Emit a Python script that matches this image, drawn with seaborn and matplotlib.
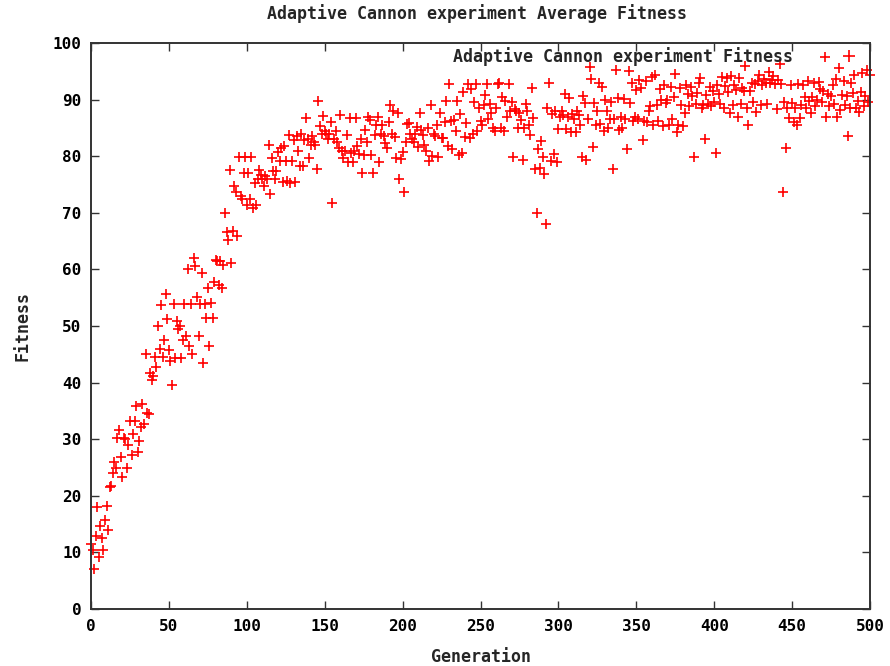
import numpy as np
import pandas as pd
import matplotlib
matplotlib.use("Agg")
import matplotlib.pyplot as plt
from matplotlib.lines import Line2D
import seaborn as sns

# ---------------- data ----------------
generations = np.arange(0, 501)

fit_000_100 = [
    11.5, 10.4, 7.0, 12.9, 18.0, 9.2, 14.7, 12.5, 10.4, 15.7,
    18.2, 14.0, 21.6, 21.7, 24.0, 26.0, 25.0, 30.3, 31.6, 26.9,
    23.4, 30.3, 30.0, 25.0, 29.0, 33.3, 27.2, 30.9, 33.3, 35.9,
    27.8, 29.6, 32.2, 36.3, 32.7, 45.0, 34.6, 34.4, 41.7, 40.5,
    41.2, 44.6, 42.8, 50.0, 46.0, 53.7, 44.6, 47.6, 55.7, 51.3,
    45.8, 43.9, 39.6, 53.9, 44.3, 50.8, 49.4, 50.0, 44.3, 47.6,
    53.9, 48.2, 60.0, 46.5, 53.9, 45.0, 62.0, 60.6, 55.1, 48.2,
    53.9, 59.4, 43.5, 53.9, 51.4, 56.8, 46.5, 54.0, 51.4, 57.7,
    61.7, 61.4, 57.2, 61.4, 56.8, 60.8, 70.0, 66.6, 65.2, 77.6,
    61.1, 66.8, 74.7, 73.7, 65.9, 79.8, 73.0, 72.5, 77.0, 79.8,
    71.3,
]
fit_101_150 = [
    77.0, 72.5, 79.8, 70.9, 75.3, 71.3, 75.9, 77.6, 76.7, 75.9,
    74.7, 76.5, 75.9, 82.0, 73.3, 79.6, 77.4, 75.9, 77.4, 80.8,
    79.2, 81.5, 75.4, 81.8, 79.2, 75.6, 83.7, 75.3, 79.2, 82.9,
    75.5, 83.5, 81.0, 78.3, 83.9, 78.3, 82.9, 86.7, 83.0, 79.6,
    82.0, 83.5, 82.5, 82.0, 77.7, 89.8, 85.3, 84.0, 87.1, 84.5,
]
fit_151_200 = [
    84.0, 83.0, 84.0, 86.1, 71.7, 83.0, 84.5, 82.5, 81.5, 87.2,
    81.0, 79.6, 81.0, 83.8, 79.0, 86.7, 80.5, 79.0, 81.0, 86.7,
    81.8, 80.4, 83.0, 77.1, 80.2, 84.7, 82.5, 87.0, 86.4, 80.2,
    77.1, 83.7, 85.5, 87.0, 79.0, 84.0, 85.5, 83.5, 82.4, 81.5,
    86.0, 89.0, 84.0, 88.0, 83.4, 79.6, 87.7, 76.0, 79.5, 80.7,
]
fit_201_250 = [
    73.6, 82.5, 85.7, 85.9, 84.0, 83.0, 82.5, 84.0, 85.1, 81.6,
    87.7, 84.7, 83.7, 82.0, 81.0, 85.0, 79.2, 89.0, 80.0, 84.0,
    83.6, 85.5, 79.8, 87.7, 83.3, 83.3, 86.0, 89.8, 81.8, 92.8,
    86.3, 81.3, 86.4, 84.5, 89.8, 80.2, 87.4, 80.6, 91.3, 83.4,
    85.9, 92.8, 83.3, 91.8, 84.0, 89.5, 92.8, 84.5, 88.6, 86.3,
]
fit_251_300 = [
    85.5, 89.0, 90.8, 92.8, 86.5, 89.2, 87.6, 84.9, 84.5, 88.6,
    92.8, 93.0, 85.0, 90.5, 84.4, 89.8, 87.0, 92.8, 88.0, 89.5,
    79.9, 88.3, 88.0, 85.0, 87.7, 86.4, 79.3, 84.9, 89.2, 88.0,
    85.5, 83.7, 92.0, 86.7, 77.7, 69.9, 81.2, 78.0, 82.6, 79.9,
    76.8, 68.0, 88.5, 92.9, 79.1, 87.5, 80.4, 88.0, 78.9, 84.8,
]
fit_301_350 = [
    87.0, 88.0, 87.3, 91.0, 84.8, 87.0, 90.2, 84.2, 87.5, 86.5,
    84.2, 88.0, 87.3, 85.5, 79.9, 90.7, 89.4, 79.3, 86.6, 95.8,
    93.7, 81.7, 89.4, 85.6, 88.0, 93.0, 85.7, 92.2, 84.4, 90.0,
    88.0, 85.0, 86.5, 89.6, 77.7, 86.5, 95.2, 90.3, 84.6, 87.0,
    85.0, 90.1, 86.5, 81.2, 95.0, 89.4, 93.0, 86.3, 87.0, 91.7,
]
fit_351_400 = [
    86.5, 93.4, 92.0, 82.9, 86.3, 93.2, 86.0, 88.0, 88.8, 94.0,
    85.6, 94.3, 89.0, 86.2, 91.9, 90.0, 85.3, 92.5, 89.4, 89.9,
    85.6, 92.2, 86.5, 90.5, 94.6, 84.2, 85.5, 92.0, 89.0, 85.3,
    87.6, 92.5, 91.0, 88.8, 92.2, 90.7, 79.9, 89.2, 91.2, 92.9,
    93.9, 88.6, 89.0, 83.0, 90.8, 89.3, 92.3, 88.9, 91.5, 89.5,
]
fit_401_450 = [
    80.5, 92.6, 91.0, 89.2, 94.0, 88.6, 92.4, 93.8, 91.3, 87.6,
    94.1, 89.0, 92.5, 91.7, 87.0, 93.9, 89.3, 92.0, 91.5, 95.9,
    88.6, 85.5, 91.6, 93.0, 89.5, 92.8, 87.8, 93.2, 94.4, 89.0,
    92.5, 93.6, 93.0, 89.2, 94.8, 92.9, 93.5, 94.2, 92.7, 88.4,
    93.4, 96.3, 92.8, 73.6, 89.5, 81.5, 88.5, 86.8, 92.6, 89.4,
]
fit_451_500 = [
    86.0, 88.6, 85.5, 92.8, 86.8, 89.0, 92.6, 90.4, 88.5, 93.2,
    89.7, 87.7, 90.5, 92.9, 88.8, 90.0, 93.1, 91.9, 89.5, 91.5,
    97.6, 86.9, 91.0, 88.8, 90.6, 92.5, 89.2, 93.6, 86.9, 95.5,
    88.2, 90.8, 93.3, 89.0, 90.7, 83.6, 88.5, 93.0, 91.2, 94.3,
    88.6, 89.8, 87.8, 91.3, 94.7, 88.9, 90.6, 95.2, 89.6, 94.4,
]

x_ticks = [0, 50, 100, 150, 200, 250, 300, 350, 400, 450, 500]
y_ticks = [0, 10, 20, 30, 40, 50, 60, 70, 80, 90, 100]

title = "Adaptive Cannon experiment Average Fitness"
series_name = "Adaptive Cannon experiment Fitness"

fitness = (fit_000_100 + fit_101_150 + fit_151_200 + fit_201_250 + fit_251_300
           + fit_301_350 + fit_351_400 + fit_401_450 + fit_451_500)
df = pd.DataFrame({"Generation": generations, "Fitness": fitness})

# ---------------- style ----------------
sns.set_theme(style="white")
plt.rcParams["font.family"] = ["DejaVu Sans Mono", "DejaVu Sans"]
plt.rcParams["font.weight"] = "bold"

fig = plt.figure(figsize=(8.9, 6.66), dpi=100)
ax = fig.add_axes([91 / 890, 1 - 609 / 666, (870 - 91) / 890, (609 - 43) / 666])

sns.scatterplot(data=df, x="Generation", y="Fitness", marker="+", color="#ff0000",
                s=55, linewidth=1.2, ax=ax, legend=False)
for c in ax.collections:
    c.set_clip_on(False)

ax.set_xlim(0, 500)
ax.set_ylim(0, 100)
ax.set_xticks(x_ticks)
ax.set_yticks(y_ticks)
ax.tick_params(direction="in", length=6, width=1.0, color="#333333",
               top=True, right=True, bottom=True, left=True,
               labelsize=11.5, pad=7, labelcolor="black")
for lab in ax.get_xticklabels() + ax.get_yticklabels():
    lab.set_fontweight("bold")
for sp in ax.spines.values():
    sp.set_visible(True)
    sp.set_color("#333333")
    sp.set_linewidth(1.4)

ax.set_xlabel("Generation", fontsize=12, fontweight="bold", labelpad=10)
ax.set_ylabel("Fitness", fontsize=12, fontweight="bold", labelpad=15)
fig.text(477 / 890, 1 - 14 / 666, title, ha="center", va="center",
         fontsize=12, fontweight="bold")

handle = Line2D([], [], marker="+", color="#ff0000", linestyle="none",
                markersize=8, markeredgewidth=1.2)
leg = ax.legend([handle], [series_name], loc="upper right", frameon=False,
                markerfirst=False, bbox_to_anchor=((866 - 91) / 779, (609 - 47) / 566),
                fontsize=12, handletextpad=2.4, handlelength=2.0,
                borderaxespad=0.0, borderpad=0.0)
for t in leg.get_texts():
    t.set_fontweight("bold")

fig.savefig("out.png", dpi=100)
